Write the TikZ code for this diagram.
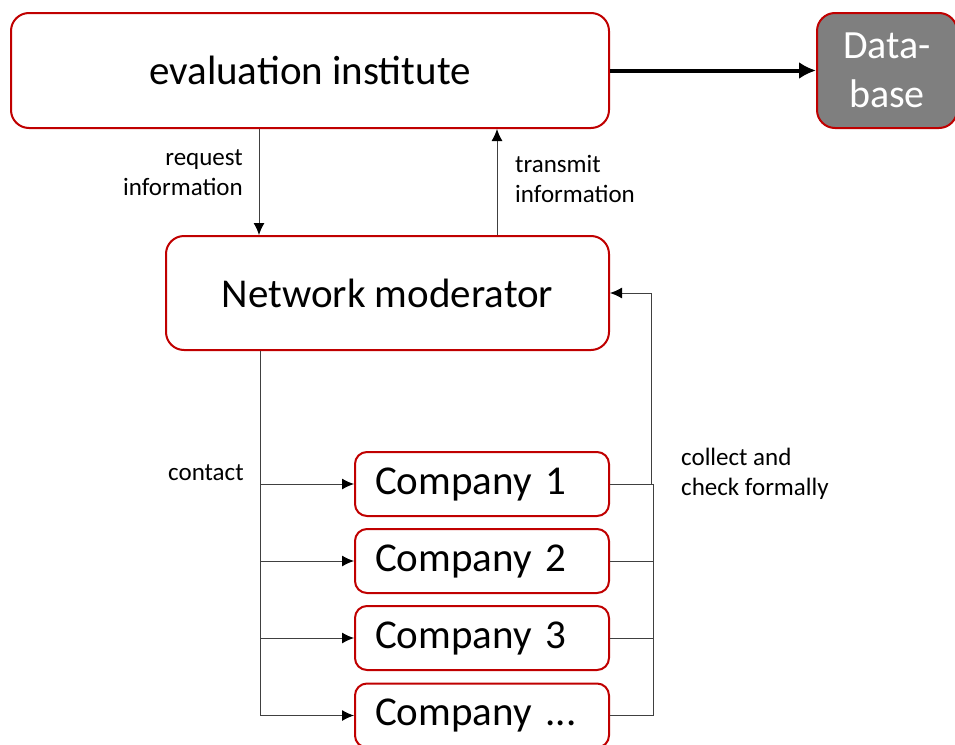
\documentclass[tikz,border=0pt]{standalone}
\usepackage{fontspec}
\setmainfont{Carlito}
\usetikzlibrary{arrows.meta}
\definecolor{boxred}{HTML}{C00000}
\definecolor{linegray}{HTML}{404040}
\definecolor{dbgray}{HTML}{7F7F7F}
\begin{document}
\begin{tikzpicture}[x=1pt,y=-1pt,
  box/.style={draw=boxred,line width=2pt,rounded corners=18pt,fill=white,inner sep=0pt,
    font=\fontsize{41}{48}\selectfont},
  cbox/.style={box,rounded corners=12pt,minimum height=64pt,text width=214pt,inner xsep=20pt,align=left},
  conn/.style={draw=linegray,line width=1pt},
  tip/.style={-{Latex[length=12pt,width=11pt,color=black]}},
  lbl/.style={font=\fontsize{25}{30}\selectfont,inner sep=0pt}]
\useasboundingbox (0,0) rectangle (955,744);
\fill[white] (0,0) rectangle (955,744);
% boxes
\node[box,minimum width=598pt,minimum height=115pt] (eval) at (310,70.5) {evaluation institute};
\node[box,fill=dbgray,text=white,minimum width=140pt,minimum height=115pt,align=center,
  font=\fontsize{40}{49}\selectfont] (db) at (887,70.5) {Data-\\base};
\node[box,minimum width=443pt,minimum height=114pt] (net) at (387.5,293) {Network moderator};
\node[cbox] (c1) at (482,484) {Company 1};
\node[cbox] (c2) at (482,561) {Company 2};
\node[cbox] (c3) at (482,638) {Company 3};
\node[cbox] (c4) at (482,715.5) {Company ...};
% helper coordinates
\coordinate (rx) at (259,0);
\coordinate (tx) at (497,0);
\coordinate (kx) at (260,0);
\coordinate (fb) at (651,293);
\coordinate (cx) at (653,0);
% connectors
\draw[line width=4pt,-{Latex[length=17pt,width=17pt]}] (eval.east) -- (db.west);
\draw[conn,tip] (eval.south -| rx) -- (net.north -| rx);
\draw[conn,tip] (net.north -| tx) -- (eval.south -| tx);
\draw[conn] (net.south -| kx) -- (c4.west -| kx);
\foreach \c in {c1,c2,c3,c4} {
  \draw[conn,tip] (\c.west -| kx) -- (\c.west);
  \draw[conn] (\c.east) -- (\c.east -| cx);
}
\draw[conn] (c1.east -| cx) -- (c4.east -| cx);
\draw[conn,tip] (c1.east) -| (fb) -- (net.east);
% labels
\node[lbl,anchor=east,align=right] (lreq) at (243,173) {request\\information};
\node[lbl,anchor=west,align=left] (ltr) at (515,179) {transmit\\information};
\node[lbl,anchor=west] (lcon) at (168,473) {contact};
\node[lbl,anchor=west,align=left] (lcol) at (681,473.5) {collect and\\check formally};
\end{tikzpicture}
\end{document}
